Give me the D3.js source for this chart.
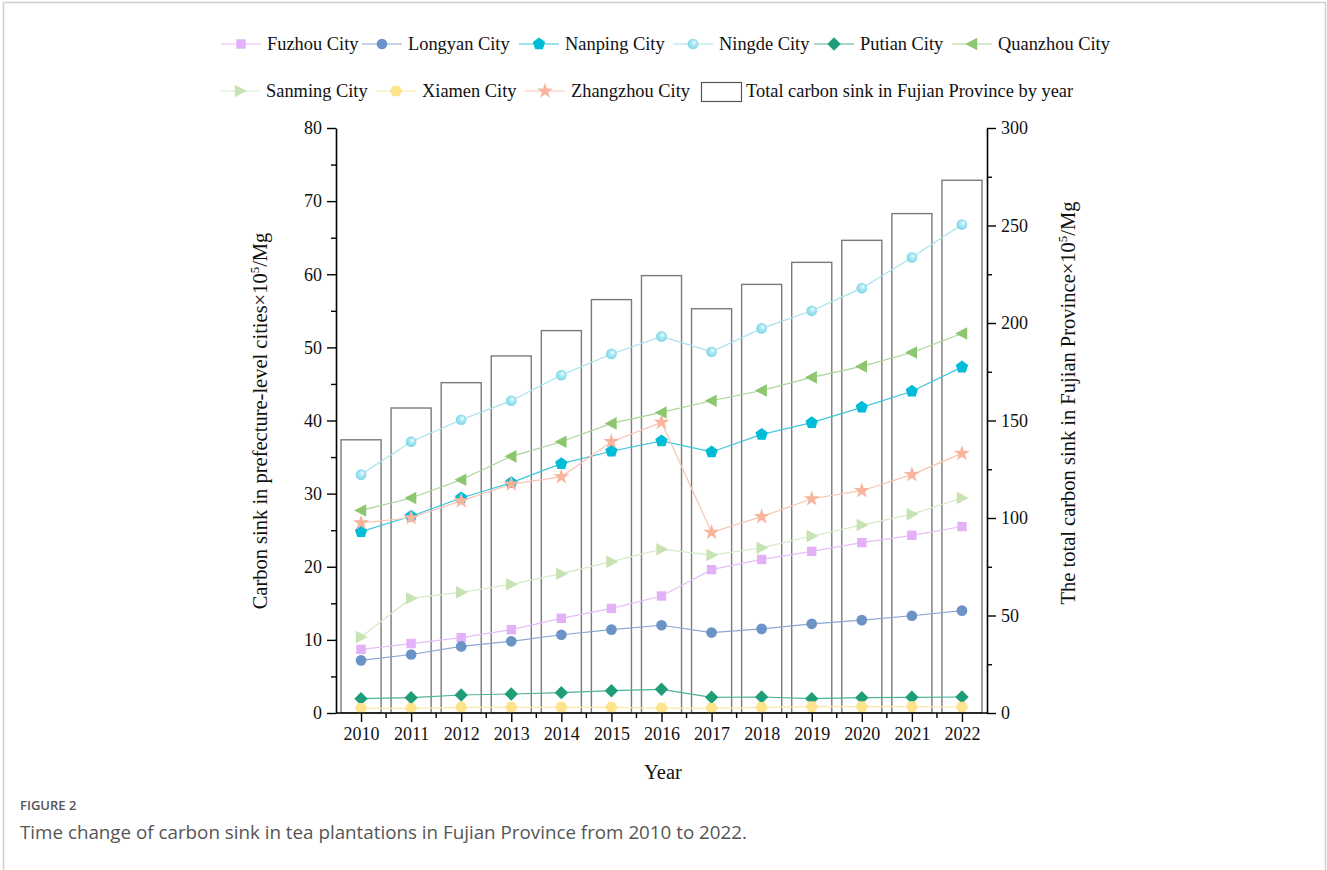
<!DOCTYPE html>
<html>
<head>
<meta charset="utf-8">
<script src="https://cdn.jsdelivr.net/npm/d3@7"></script>
<style>
  html, body { margin: 0; padding: 0; background: #fff; }
  svg { display: block; }
</style>
</head>
<body>
<svg id="chart" width="1327" height="870"></svg>
<script>
// Tea plantation carbon sink, Fujian Province, 2010–2022 (×10^5 Mg)
const years = ["2010","2011","2012","2013","2014","2015","2016","2017","2018","2019","2020","2021","2022"];

const fuzhou    = [8.7, 9.5, 10.3, 11.4, 12.95, 14.3, 16.0, 19.6, 21.0, 22.1, 23.3, 24.3, 25.5];
const longyan   = [7.2, 8.0, 9.1, 9.8, 10.7, 11.4, 12.0, 11.0, 11.5, 12.2, 12.7, 13.3, 14.0];
const nanping   = [24.8, 26.9, 29.4, 31.5, 34.1, 35.8, 37.2, 35.7, 38.1, 39.7, 41.8, 44.0, 47.3];
const ningde    = [32.6, 37.1, 40.1, 42.7, 46.2, 49.1, 51.5, 49.4, 52.6, 55.0, 58.1, 62.3, 66.8];
const putian    = [1.96, 2.1, 2.46, 2.6, 2.78, 3.05, 3.24, 2.15, 2.19, 1.96, 2.1, 2.15, 2.19];
const quanzhou  = [27.7, 29.4, 31.9, 35.1, 37.1, 39.6, 41.1, 42.7, 44.1, 45.9, 47.4, 49.3, 51.9];
const sanming   = [10.4, 15.7, 16.5, 17.6, 19.05, 20.7, 22.4, 21.6, 22.6, 24.2, 25.7, 27.2, 29.4];
const xiamen    = [0.64, 0.64, 0.78, 0.78, 0.78, 0.78, 0.68, 0.64, 0.78, 0.87, 0.87, 0.87, 0.82];
const zhangzhou = [26.0, 26.7, 29.0, 31.3, 32.3, 37.1, 39.75, 24.7, 26.85, 29.3, 30.4, 32.6, 35.5];

// Provincial total per year (right axis)
const totals = [140.1, 156.4, 169.4, 183.1, 196.1, 212.0, 224.3, 207.3, 219.8, 231.1, 242.4, 256.1, 273.2];

const cityNames = ["Fuzhou City","Longyan City","Nanping City","Ningde City","Putian City",
                   "Quanzhou City","Sanming City","Xiamen City","Zhangzhou City"];
const totalLabel = "Total carbon sink in Fujian Province by year";

const leftTicks  = [0, 10, 20, 30, 40, 50, 60, 70, 80];
const rightTicks = [0, 50, 100, 150, 200, 250, 300];

const leftTitle  = ["Carbon sink in prefecture-level cities×10", "5", "/Mg"];
const rightTitle = ["The total carbon sink in Fujian Province×10", "5", "/Mg"];
const xTitle = "Year";
const figLabel = "FIGURE 2";
const figCaption = "Time change of carbon sink in tea plantations in Fujian Province from 2010 to 2022.";

// ---- styling per series ----
const styles = [
  { values: fuzhou,    shape: "square",   fill: "#e3b1f7", line: "#e6bdf5" },
  { values: longyan,   shape: "circle",   fill: "#6c93c7", line: "#8aa7d1" },
  { values: nanping,   shape: "pentagon", fill: "#00bcd6", line: "#3cc6da" },
  { values: ningde,    shape: "sphere",   fill: "#7fd6e8", line: "#a8e2ec" },
  { values: putian,    shape: "diamond",  fill: "#1d9e78", line: "#4fb395" },
  { values: quanzhou,  shape: "triLeft",  fill: "#8cc76f", line: "#aad596" },
  { values: sanming,   shape: "triRight", fill: "#c8e3b3", line: "#d5eac6" },
  { values: xiamen,    shape: "hexagon",  fill: "#fde38c", line: "#fbe7a6" },
  { values: zhangzhou, shape: "star",     fill: "#f9b49e", line: "#f8c4b3" }
];

const svg = d3.select("#chart");
const serif = "'Liberation Serif', 'Times New Roman', serif";

// figure frame
svg.append("path")
  .attr("d", "M3.5,875 V2.5 H1325.5 V875")
  .attr("fill", "none").attr("stroke", "#cfcfcf").attr("stroke-width", 1.5);

// ---- scales ----
const x = d3.scaleBand().domain(years).range([336, 987]).paddingInner(0.2).paddingOuter(0.1);
const xc = d => x(d) + x.bandwidth() / 2;
const yL = d3.scaleLinear().domain([0, 80]).range([713, 128]);
const yR = d3.scaleLinear().domain([0, 300]).range([713, 128]);

// sphere gradient for Ningde markers
const defs = svg.append("defs");
const grad = defs.append("radialGradient").attr("id", "sphereGrad")
  .attr("cx", "0.5").attr("cy", "0.5").attr("r", "0.6").attr("fx", "0.62").attr("fy", "0.35");
grad.append("stop").attr("offset", "0").attr("stop-color", "#ffffff");
grad.append("stop").attr("offset", "0.3").attr("stop-color", "#b5ecf5");
grad.append("stop").attr("offset", "1").attr("stop-color", "#6fcfe4");

// ---- marker shapes ----
function poly(pts) { return "M" + pts.map(p => p[0].toFixed(2) + "," + p[1].toFixed(2)).join("L") + "Z"; }
function regular(n, r, rot) {
  const pts = [];
  for (let i = 0; i < n; i++) {
    const a = rot + i * 2 * Math.PI / n;
    pts.push([r * Math.cos(a), r * Math.sin(a)]);
  }
  return poly(pts);
}
function shapePath(shape) {
  switch (shape) {
    case "square":   return poly([[-4.7,-4.7],[4.7,-4.7],[4.7,4.7],[-4.7,4.7]]);
    case "circle":
    case "sphere":   return d3.symbol(d3.symbolCircle, 90)();
    case "pentagon": return regular(5, 6.5, -Math.PI / 2);
    case "diamond":  return poly([[0,-6.7],[6.7,0],[0,6.7],[-6.7,0]]);
    case "triLeft":  return poly([[-6.8,0],[5.2,-6.3],[5.2,6.3]]);
    case "triRight": return poly([[6.8,0],[-5.2,-6.3],[-5.2,6.3]]);
    case "hexagon":  return regular(6, 6.2, 0);
    case "star":     return d3.symbol(d3.symbolStar, 80)();
  }
}
function drawMarker(g, s, cx, cy) {
  g.append("path")
    .attr("d", shapePath(s.shape))
    .attr("transform", `translate(${cx},${cy})`)
    .attr("fill", s.shape === "sphere" ? "url(#sphereGrad)" : s.fill)
    .attr("stroke", "none");
}

// ---- bars (provincial totals) ----
svg.append("g").selectAll("rect")
  .data(totals)
  .join("rect")
  .attr("x", (d, i) => x(years[i]))
  .attr("y", d => yR(d))
  .attr("width", x.bandwidth())
  .attr("height", d => yR(0) - yR(d))
  .attr("fill", "none")
  .attr("stroke", "#7a7a7a")
  .attr("stroke-width", 1.4);

// ---- city lines and markers ----
const lineGen = d3.line().x((d, i) => xc(years[i])).y(d => yL(d));
const seriesG = svg.append("g");
styles.forEach(s => {
  seriesG.append("path")
    .attr("d", lineGen(s.values))
    .attr("fill", "none")
    .attr("stroke", s.line)
    .attr("stroke-width", 1.2);
});
styles.forEach(s => {
  const g = seriesG.append("g");
  s.values.forEach((v, i) => drawMarker(g, s, xc(years[i]), yL(v)));
});

// ---- axes ----
const axisStyle = g => {
  g.selectAll("path.domain").attr("stroke", "#000").attr("stroke-width", 1.6);
  g.selectAll(".tick line").attr("stroke", "#000").attr("stroke-width", 1.4);
  g.selectAll(".tick text").attr("font-family", serif).attr("font-size", 18).attr("fill", "#111");
};

// left axis with minor ticks
const leftG = svg.append("g").attr("transform", "translate(336,0)");
leftG.call(d3.axisLeft(yL).tickValues(d3.range(5, 80, 10)).tickSize(5).tickFormat("").tickSizeOuter(0));
leftG.append("g").call(d3.axisLeft(yL).tickValues(leftTicks).tickSize(9).tickPadding(5).tickSizeOuter(0))
  .call(g => g.select("path.domain").remove());
leftG.call(axisStyle);

// right axis with minor ticks
const rightG = svg.append("g").attr("transform", "translate(987,0)");
rightG.call(d3.axisRight(yR).tickValues(d3.range(25, 300, 50)).tickSize(5).tickFormat("").tickSizeOuter(0));
rightG.append("g").call(d3.axisRight(yR).tickValues(rightTicks).tickSize(9).tickPadding(5).tickSizeOuter(0))
  .call(g => g.select("path.domain").remove());
rightG.call(axisStyle);

// bottom axis: labels at band centres, minor ticks at band edges
const xPoint = d3.scalePoint().domain(years).range([xc(years[0]), xc(years[years.length - 1])]);
const bottomG = svg.append("g").attr("transform", "translate(0,713)");
bottomG.append("path").attr("class", "domain").attr("d", "M336,0H987").attr("fill", "none");
const edgeTicks = years.slice(1).map(y => x(y) - x.step() * x.paddingInner() / 2);
bottomG.selectAll("line.minor").data(edgeTicks).join("line")
  .attr("class", "minor").attr("x1", d => d).attr("x2", d => d).attr("y1", 0).attr("y2", 5)
  .attr("stroke", "#000").attr("stroke-width", 1.4);
bottomG.append("g").call(d3.axisBottom(xPoint).tickSize(9).tickPadding(5).tickSizeOuter(0))
  .call(g => g.select("path.domain").remove());
bottomG.call(axisStyle);

// ---- axis titles ----
function titleWithSup(g, parts) {
  const t = g.append("text").attr("font-family", serif).attr("font-size", 20.5).attr("fill", "#111")
    .attr("text-anchor", "middle");
  t.append("tspan").text(parts[0]);
  t.append("tspan").attr("font-size", 13).attr("dy", -8).text(parts[1]);
  t.append("tspan").attr("dy", 8).text(parts[2]);
  return t;
}
titleWithSup(svg.append("g").attr("transform", "translate(267,421) rotate(-90)"), leftTitle);
titleWithSup(svg.append("g").attr("transform", "translate(1075,403) rotate(-90)"), rightTitle);
svg.append("text").attr("x", 663).attr("y", 779).attr("text-anchor", "middle")
  .attr("font-family", serif).attr("font-size", 20.5).attr("fill", "#111").text(xTitle);

// ---- legend ----
const legendRows = [
  [[221, 0], [362, 1], [519, 2], [673, 3], [814, 4], [952, 5]],
  [[220, 6], [376, 7], [525, 8]]
];
const legendY = [44, 91];
const legend = svg.append("g");
legendRows.forEach((row, r) => {
  row.forEach(([lx, idx]) => {
    const s = styles[idx];
    const cy = legendY[r];
    legend.append("line").attr("x1", lx).attr("x2", lx + 40).attr("y1", cy).attr("y2", cy)
      .attr("stroke", s.line).attr("stroke-width", 1.2);
    drawMarker(legend, s, lx + 20, cy);
    legend.append("text").attr("x", lx + 46).attr("y", cy + 6)
      .attr("font-family", serif).attr("font-size", 18.4).attr("fill", "#111").text(cityNames[idx]);
  });
});
legend.append("rect").attr("x", 701.5).attr("y", 82.5).attr("width", 40).attr("height", 19)
  .attr("fill", "none").attr("stroke", "#555").attr("stroke-width", 1.2);
legend.append("text").attr("x", 746).attr("y", 97)
  .attr("font-family", serif).attr("font-size", 18.4).attr("fill", "#111").text(totalLabel);

// ---- caption ----
svg.append("text").attr("x", 20).attr("y", 810)
  .attr("font-family", "'Open Sans', sans-serif").attr("font-size", 13).attr("font-weight", 600)
  .attr("fill", "#555").text(figLabel);
svg.append("text").attr("x", 20).attr("y", 839)
  .attr("font-family", "'Open Sans', sans-serif").attr("font-size", 18.8)
  .attr("fill", "#555").text(figCaption);
</script>
</body>
</html>
